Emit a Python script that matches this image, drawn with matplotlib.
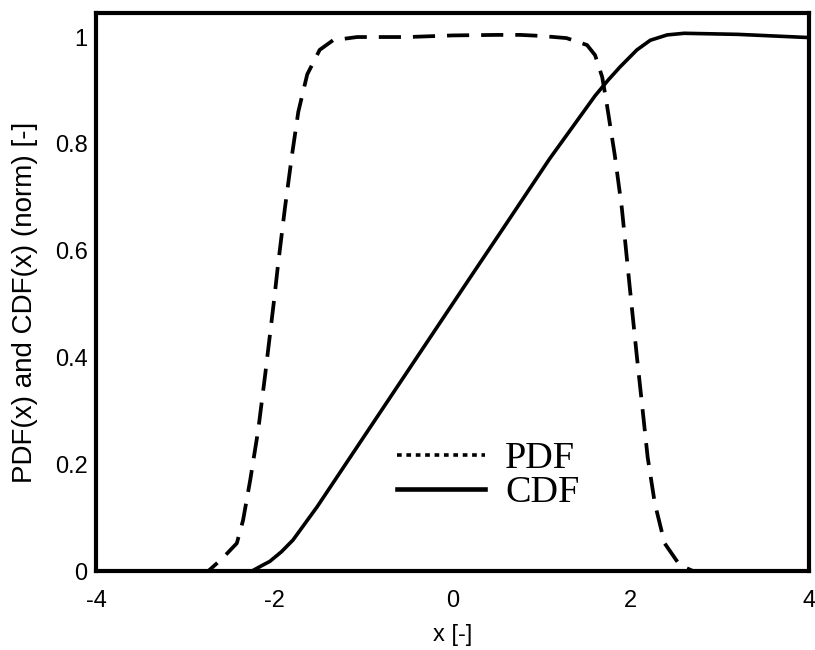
import matplotlib
matplotlib.use('Agg')
import matplotlib.pyplot as plt
from matplotlib.lines import Line2D
import numpy as np

# values
pdf_x = [-4, -2.74, -2.58, -2.42, -2.35, -2.27, -2.18, -2.10, -2.0, -1.96, -1.88,
         -1.80, -1.73, -1.63, -1.49, -1.34, -1.07, -0.5, 0, 0.5, 0.76, 1.0, 1.28,
         1.51, 1.60, 1.68, 1.73, 1.82, 1.90, 1.99, 2.07, 2.13, 2.19, 2.27, 2.38,
         2.55, 2.70, 4]
pdf_y = [0, 0, 0.024, 0.052, 0.095, 0.17, 0.264, 0.37, 0.51, 0.57, 0.68,
         0.78, 0.86, 0.93, 0.976, 0.994, 1.0, 1.0, 1.003, 1.004, 1.004, 1.002, 0.998,
         0.985, 0.966, 0.925, 0.876, 0.78, 0.68, 0.53, 0.40, 0.307, 0.213, 0.127, 0.052,
         0.011, 0, 0]

cdf_x = [-4, -2.25, -2.13, -2.05, -1.92, -1.79, -1.52, -0.78, -0.2, 0.2, 0.57,
         1.09, 1.6, 1.75, 1.88, 2.07, 2.22, 2.41, 2.6, 3.2, 4]
cdf_y = [0, 0, 0.011, 0.018, 0.036, 0.058, 0.12, 0.305, 0.45, 0.55, 0.642,
         0.772, 0.89, 0.92, 0.944, 0.976, 0.994, 1.004, 1.007, 1.005, 0.999]

x_ticks = [-4, -2, 0, 2, 4]
x_ticklabels = ['-4', '-2', '0', '2', '4']
y_ticks = [0, 0.2, 0.4, 0.6, 0.8, 1.0]
y_ticklabels = ['0', '0.2', '0.4', '0.6', '0.8', '1']


def main():
    plt.rcParams['font.family'] = ['Liberation Sans', 'DejaVu Sans']

    fig = plt.figure(figsize=(8.15, 6.5), dpi=100)
    ax = fig.add_axes([0.1178, 0.1215, 0.8748, 0.8585])

    ax.plot(pdf_x, pdf_y, color='black', linewidth=2.7, linestyle=(0, (5.9, 3.2)))
    ax.plot(cdf_x, cdf_y, color='black', linewidth=2.6, solid_capstyle='round')

    ax.set_xlim(-4, 4)
    ax.set_ylim(0, 1.045)
    ax.set_xticks(x_ticks)
    ax.set_xticklabels(x_ticklabels)
    ax.set_yticks(y_ticks)
    ax.set_yticklabels(y_ticklabels)
    ax.tick_params(axis='both', length=0, labelsize=17)
    ax.tick_params(axis='y', pad=6)
    ax.tick_params(axis='x', pad=14)
    for sp in ax.spines.values():
        sp.set_linewidth(3)

    ax.set_xlabel('x [-]', fontsize=17, labelpad=8)
    ax.set_ylabel('PDF(x) and CDF(x) (norm) [-]', fontsize=20)
    ax.yaxis.set_label_coords(-0.081, 0.482)

    handles = [Line2D([], [], color='black', linewidth=2.6, linestyle=(0, (1.3, 1.3))),
               Line2D([], [], color='black', linewidth=3.3)]
    ax.legend(handles, ['PDF', 'CDF'], loc='upper left', bbox_to_anchor=(0.422, 0.232),
              frameon=False, borderpad=0, borderaxespad=0, handlelength=2.3,
              handletextpad=0.53, labelspacing=-0.02,
              prop={'family': 'Liberation Serif', 'size': 27.5})

    fig.savefig('out.png', dpi=100)
    plt.close(fig)


if __name__ == "__main__":
    main()
